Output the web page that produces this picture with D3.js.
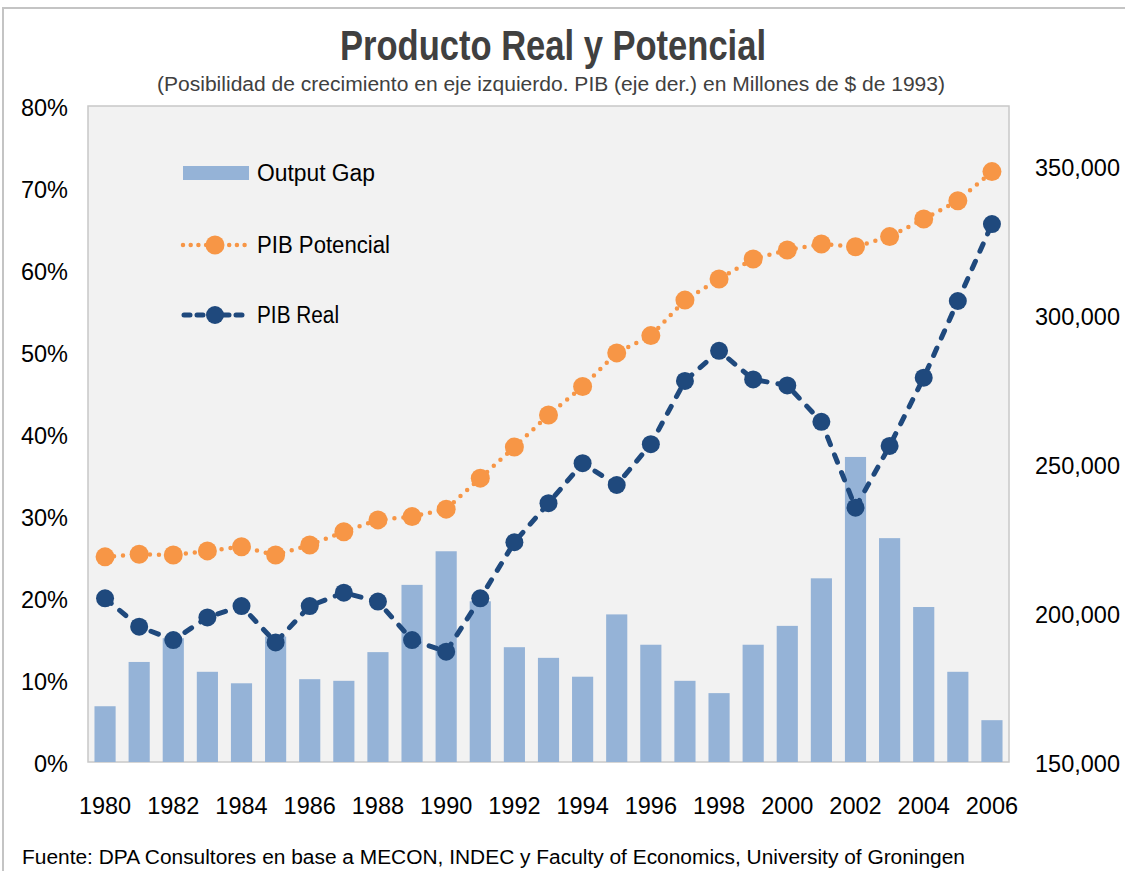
<!DOCTYPE html>
<html lang="es">
<head>
    <meta charset="UTF-8">
    <title>Producto Real y Potencial</title>
    <script src="https://cdnjs.cloudflare.com/ajax/libs/d3/7.8.5/d3.min.js"></script>
    <style>
        body { margin: 0; background: #fff; }
        svg { display: block; font-family: "Liberation Sans", Arial, sans-serif; }
    </style>
</head>
<body>
<svg id="chart" width="1125" height="871"></svg>

<script>
    // data
    var years = d3.range(1980, 2007).map(String);
    var yearLabels = ["1980", "1982", "1984", "1986", "1988", "1990", "1992", "1994", "1996", "1998", "2000", "2002", "2004", "2006"];

    // output gap, % (left axis)
    var outputGap = [6.8, 12.2, 15.1, 11.0, 9.6, 15.3, 10.1, 9.9, 13.4, 21.6, 25.7, 19.6, 14.0,
        12.7, 10.4, 18.0, 14.3, 9.9, 8.4, 14.3, 16.6, 22.4, 37.2, 27.3, 18.9, 11.0, 5.1];

    // PIB potencial, millones de $ de 1993 (right axis)
    var pibPotencial = [218800, 219700, 219400, 220800, 222200, 219400, 222800, 227200, 231200, 232300,
        234800, 245200, 255600, 266400, 275900, 287200, 293000, 304900, 312000, 318700,
        321700, 323700, 322800, 326200, 332100, 338200, 348000];

    // PIB real, millones de $ de 1993 (right axis)
    var pibReal = [204900, 195400, 190900, 198500, 202300, 190100, 202300, 206800, 203800, 190900,
        187000, 204900, 223700, 236800, 250200, 242900, 256600, 277800, 287900, 278300,
        276300, 264100, 235300, 256000, 278900, 304600, 330400];

    var leftTicks = [0, 0.1, 0.2, 0.3, 0.4, 0.5, 0.6, 0.7, 0.8];
    var rightTicks = [150000, 200000, 250000, 300000, 350000];
    var seriesNames = ["Output Gap", "PIB Potencial", "PIB Real"];

    var colBar = "#95b3d7", colPot = "#f79646", colReal = "#1f497d";

    var svg = d3.select("#chart");
    var plot = {left: 88, right: 1009, top: 106, bottom: 762};

    // outer frame of the chart area
    svg.append("path")
        .attr("d", "M3,871 V8 H1125")
        .attr("fill", "none")
        .attr("stroke", "#c4c4c4")
        .attr("stroke-width", 2);

    // plot background
    svg.append("rect")
        .attr("x", plot.left).attr("y", plot.top)
        .attr("width", plot.right - plot.left).attr("height", plot.bottom - plot.top)
        .attr("fill", "#f2f2f2")
        .attr("stroke", "#c8c8c8")
        .attr("stroke-width", 1.5);

    var x = d3.scaleBand()
        .domain(years)
        .range([plot.left, plot.right])
        .paddingInner(0.38)
        .paddingOuter(0.19);

    var yL = d3.scaleLinear().domain([0, 0.8]).range([plot.bottom, plot.top]);
    var yR = d3.scaleLinear().domain([150000, 370000]).range([plot.bottom, plot.top]);

    function cx(i) { return x(years[i]) + x.bandwidth() / 2; }

    // titles
    svg.append("text")
        .attr("x", 553).attr("y", 60)
        .attr("text-anchor", "middle")
        .attr("font-size", 42).attr("font-weight", "bold")
        .attr("fill", "#404040")
        .attr("textLength", 426).attr("lengthAdjust", "spacingAndGlyphs")
        .text("Producto Real y Potencial");

    svg.append("text")
        .attr("x", 551).attr("y", 91)
        .attr("text-anchor", "middle")
        .attr("font-size", 20)
        .attr("fill", "#404040")
        .attr("textLength", 788).attr("lengthAdjust", "spacingAndGlyphs")
        .text("(Posibilidad de crecimiento en eje izquierdo. PIB (eje der.) en Millones de $ de 1993)");

    // axes
    var axL = svg.append("g")
        .attr("transform", "translate(" + (plot.left - 20) + ",2)")
        .call(d3.axisLeft(yL).tickValues(leftTicks).tickFormat(d3.format(".0%")).tickSize(0));
    var axR = svg.append("g")
        .attr("transform", "translate(" + (plot.right + 26) + ",2)")
        .call(d3.axisRight(yR).tickValues(rightTicks).tickFormat(d3.format(",")).tickSize(0));
    var axB = svg.append("g")
        .attr("transform", "translate(0," + (plot.bottom + 32) + ")")
        .call(d3.axisBottom(x).tickValues(yearLabels).tickSize(0));

    [axL, axR, axB].forEach(function (a) {
        a.select(".domain").remove();
        a.selectAll("text")
            .attr("font-size", 23.5)
            .attr("font-family", "Liberation Sans, Arial, sans-serif")
            .attr("fill", "#000");
    });
    axL.selectAll("text").attr("x", 0);
    axR.selectAll("text").attr("x", 0);

    // bars
    svg.append("g").selectAll("rect")
        .data(outputGap)
        .join("rect")
        .attr("x", function (d, i) { return x(years[i]); })
        .attr("y", function (d) { return yL(d / 100); })
        .attr("width", x.bandwidth())
        .attr("height", function (d) { return plot.bottom - yL(d / 100); })
        .attr("fill", colBar);

    // lines
    var line = d3.line()
        .x(function (d, i) { return cx(i); })
        .y(function (d) { return yR(d); });

    function drawSeries(data, color, dash, width, r) {
        svg.append("path")
            .datum(data)
            .attr("d", line)
            .attr("fill", "none")
            .attr("stroke", color)
            .attr("stroke-width", width)
            .attr("stroke-dasharray", dash)
            .attr("stroke-linecap", "round");
        svg.append("g").selectAll("circle")
            .data(data)
            .join("circle")
            .attr("cx", function (d, i) { return cx(i); })
            .attr("cy", function (d) { return yR(d); })
            .attr("r", r)
            .attr("fill", color);
    }

    drawSeries(pibPotencial, colPot, "0,9", 4.5, 9.5);
    drawSeries(pibReal, colReal, "8,11", 5, 9);

    // legend
    var leg = svg.append("g").attr("font-size", 23).attr("fill", "#000");
    var legY = [173, 245, 315];

    leg.append("rect")
        .attr("x", 183).attr("y", legY[0] - 7)
        .attr("width", 66).attr("height", 14)
        .attr("fill", colBar);

    leg.append("line")
        .attr("x1", 183).attr("x2", 248).attr("y1", legY[1]).attr("y2", legY[1])
        .attr("stroke", colPot).attr("stroke-width", 4.5)
        .attr("stroke-dasharray", "0,7.7").attr("stroke-linecap", "round");
    leg.append("circle").attr("cx", 215).attr("cy", legY[1]).attr("r", 9.5).attr("fill", colPot);

    leg.append("line")
        .attr("x1", 184).attr("x2", 249).attr("y1", legY[2]).attr("y2", legY[2])
        .attr("stroke", colReal).attr("stroke-width", 5)
        .attr("stroke-dasharray", "6,7").attr("stroke-linecap", "round");
    leg.append("circle").attr("cx", 215).attr("cy", legY[2]).attr("r", 9).attr("fill", colReal);

    var legW = [118, 133, 82];
    leg.selectAll("text.lbl")
        .data(seriesNames)
        .join("text")
        .attr("class", "lbl")
        .attr("x", 257)
        .attr("y", function (d, i) { return legY[i]; })
        .attr("dy", "0.35em")
        .attr("textLength", function (d, i) { return legW[i]; })
        .attr("lengthAdjust", "spacingAndGlyphs")
        .text(function (d) { return d; });

    // source
    svg.append("text")
        .attr("x", 22).attr("y", 864)
        .attr("font-size", 20)
        .attr("fill", "#000")
        .attr("textLength", 943).attr("lengthAdjust", "spacingAndGlyphs")
        .text("Fuente: DPA Consultores en base a MECON, INDEC y Faculty of Economics, University of Groningen");
</script>
</body>
</html>
